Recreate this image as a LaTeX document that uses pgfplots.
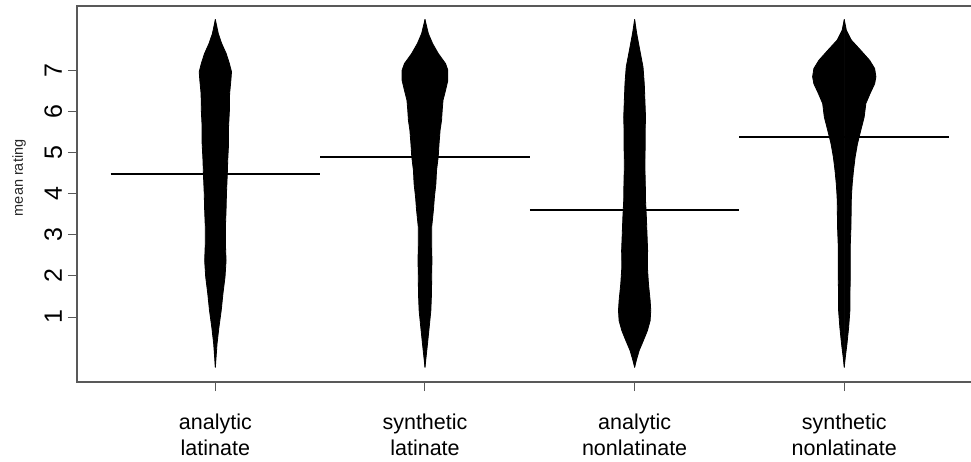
\documentclass[border=0pt]{standalone}
\usepackage{pgfplots}
\pgfplotsset{compat=1.18}
\usepackage{pgfplotstable}
\usepackage{fontspec}
\setmainfont{Liberation Sans}

% bean outlines: v = rating, w = half width (x units)
\pgfplotstableread{
v w
8.23 0
7.89 0.014
7.65 0.030
7.40 0.052
7.16 0.067
6.96 0.077
6.75 0.074
6.43 0.068
6.02 0.067
5.62 0.063
5.21 0.063
4.81 0.059
4.48 0.057
4.00 0.053
3.59 0.051
3.19 0.048
2.78 0.048
2.37 0.051
1.97 0.046
1.56 0.036
1.16 0.028
0.75 0.017
0.35 0.008
-0.22 0
}\beanA
\pgfplotstableread{
v w
8.23 0
7.89 0.016
7.65 0.036
7.40 0.064
7.16 0.098
7.00 0.109
6.75 0.109
6.51 0.098
6.27 0.086
6.02 0.082
5.78 0.079
5.54 0.072
5.21 0.067
4.89 0.063
4.56 0.055
4.24 0.052
3.92 0.045
3.59 0.040
3.19 0.032
2.78 0.032
2.37 0.033
1.97 0.032
1.56 0.031
1.16 0.028
0.75 0.020
0.35 0.012
-0.22 0
}\beanB
\pgfplotstableread{
v w
8.23 0
7.89 0.010
7.48 0.025
7.08 0.040
6.67 0.046
6.27 0.049
5.86 0.052
5.46 0.050
5.05 0.050
4.65 0.049
4.24 0.051
3.83 0.052
3.43 0.056
3.02 0.059
2.62 0.062
2.21 0.061
1.81 0.066
1.40 0.074
1.16 0.077
0.91 0.074
0.67 0.061
0.43 0.042
0.19 0.022
-0.02 0.010
-0.22 0
}\beanC
\pgfplotstableread{
v w
8.23 0
7.97 0.010
7.73 0.034
7.48 0.079
7.24 0.121
7.04 0.145
6.84 0.151
6.67 0.145
6.43 0.123
6.19 0.103
5.86 0.095
5.54 0.079
5.21 0.063
4.89 0.052
4.56 0.044
4.24 0.038
3.92 0.034
3.59 0.033
3.19 0.032
2.78 0.029
2.37 0.029
1.97 0.029
1.56 0.027
1.16 0.027
0.75 0.021
0.35 0.013
0.02 0.005
-0.22 0
}\beanD

\definecolor{axgray}{gray}{0.35}

\begin{document}
\begin{tikzpicture}
\begin{axis}[
  at={(0pt,0pt)}, anchor=south west,
  scale only axis, width=905.6pt, height=376pt,
  xmin=0.34, xmax=4.66, ymin=-0.58, ymax=8.56,
  xtick={1,2,3,4},
  xticklabels={analytic\\latinate, synthetic\\latinate, analytic\\nonlatinate, synthetic\\nonlatinate},
  ytick={1,2,3,4,5,6,7},
  xtick pos=bottom, ytick pos=left,
  tick align=outside, major tick length=9pt,
  tick style={color=axgray, line width=1pt},
  axis line style={color=axgray, line width=1.2pt},
  /pgf/number format/assume math mode=true,
  xticklabel style={align=center, anchor=north, font=\fontsize{21.5}{26}\selectfont},
  yticklabel style={rotate=90, anchor=base, font=\fontsize{25}{28}\selectfont},
  xticklabel shift=19pt,
  yticklabel shift=6pt,
  ylabel={mean rating},
  every axis y label/.style={at={(axis description cs:-0.064,0.543)}, rotate=90, anchor=center, font=\fontsize{14.5}{17}\selectfont, color=black!85},
  clip=true,
  bean/.style={fill=black, draw=black, line width=0.8pt, line join=round},
]
\addplot[bean] table[x expr=1+\thisrow{w}, y=v]{\beanA} -- cycle;
\addplot[bean] table[x expr=1-\thisrow{w}, y=v]{\beanA} -- cycle;
\addplot[bean] table[x expr=2+\thisrow{w}, y=v]{\beanB} -- cycle;
\addplot[bean] table[x expr=2-\thisrow{w}, y=v]{\beanB} -- cycle;
\addplot[bean] table[x expr=3+\thisrow{w}, y=v]{\beanC} -- cycle;
\addplot[bean] table[x expr=3-\thisrow{w}, y=v]{\beanC} -- cycle;
\addplot[bean] table[x expr=4+\thisrow{w}, y=v]{\beanD} -- cycle;
\addplot[bean] table[x expr=4-\thisrow{w}, y=v]{\beanD} -- cycle;
% bean means
\addplot[black, line width=2pt] coordinates {(0.5,4.48) (1.5,4.48)};
\addplot[black, line width=2pt] coordinates {(1.5,4.90) (2.5,4.90)};
\addplot[black, line width=2pt] coordinates {(2.5,3.60) (3.5,3.60)};
\addplot[black, line width=2pt] coordinates {(3.5,5.375) (4.5,5.375)};
\end{axis}
\pgfresetboundingbox
\useasboundingbox (-77pt,-79pt) rectangle (894pt,382pt);
\end{tikzpicture}
\end{document}
